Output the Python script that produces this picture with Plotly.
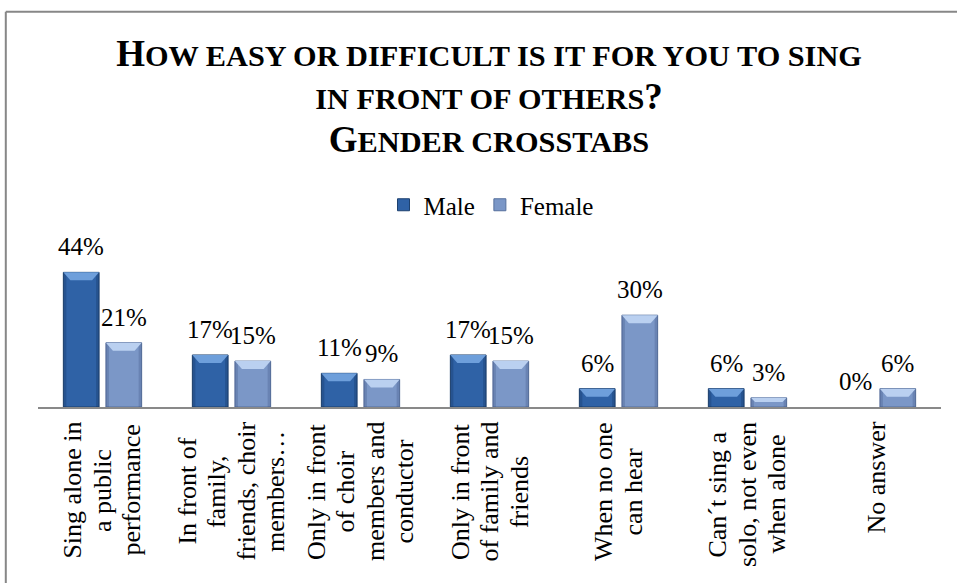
import plotly.graph_objects as go

# ---- data -------------------------------------------------------------
categories = [
    "Sing alone in a public performance",
    "In front of family, friends, choir members…",
    "Only in front of choir members and conductor",
    "Only in front of family and friends",
    "When no one can hear",
    "Can´t sing a solo, not even when alone",
    "No answer",
]
category_lines = [
    ["Sing alone in", "a public", "performance"],
    ["In front of", "family,", "friends, choir", "members…"],
    ["Only in front", "of choir", "members and", "conductor"],
    ["Only in front", "of family and", "friends"],
    ["When no one", "can hear"],
    ["Can´t sing a", "solo, not even", "when alone"],
    ["No answer"],
]
male = [44, 17, 11, 17, 6, 6, 0]
female = [21, 15, 9, 15, 30, 3, 6]

# ---- geometry / style -------------------------------------------------
W, H = 957, 583
M_L, M_R, M_T, M_B = 38, 16, 254, 176
PLOT_W = W - M_L - M_R
PLOT_H = H - M_T - M_B
Y_MAX = 50
X_RANGE = [-0.5, len(categories) - 0.5]
PX_X = PLOT_W / (X_RANGE[1] - X_RANGE[0])   # px per category unit
PX_Y = PLOT_H / Y_MAX                         # px per percent

BAR_W = 0.277
CENTER_OFF = 0.165
FONT = "Liberation Serif"
LABEL_SIZE = 26
LABEL_LINE_GAP = 29.5      # px between rotated label lines
LABEL_TOP = 422            # px where the longest label line starts

# Times-style advance widths (per 1000 em) for the label characters
TIMES_W = {
    " ": 250, "a": 444, "b": 500, "c": 444, "d": 500, "e": 444, "f": 333,
    "g": 500, "h": 500, "i": 278, "l": 278, "m": 778, "n": 500, "o": 500,
    "p": 500, "r": 333, "s": 389, "t": 278, "u": 500, "v": 500, "w": 722,
    "y": 500, "C": 667, "I": 333, "N": 722, "O": 722, "S": 556, "W": 944,
    ",": 250, "´": 333, "…": 1000,
}


def text_len(s, size):
    return sum(TIMES_W.get(ch, 500) for ch in s) * size / 1000.0


series = [
    dict(name="Male", values=male, off=-CENTER_OFF,
         fill="#2f62a6", edge="#1d416f", top="#6e9fdb", side="rgba(10,30,70,0.22)"),
    dict(name="Female", values=female, off=CENTER_OFF,
         fill="#7b97c7", edge="#566f9c", top="#bad0f0", side="rgba(30,45,90,0.18)"),
]

xs = list(range(len(categories)))
fig = go.Figure()

shapes = []
annotations = []


def px_to_paper_x(px):
    return (px - M_L) / PLOT_W


def px_to_paper_y(py):
    return (H - M_B - py) / PLOT_H


for s in series:
    fig.add_trace(go.Bar(
        x=xs, y=s["values"], name=s["name"],
        width=BAR_W, offset=s["off"] - BAR_W / 2,
        marker=dict(color=s["fill"],
                    line=dict(color=s["edge"],
                              width=[1 if v > 0 else 0 for v in s["values"]])),
        hoverinfo="skip",
    ))
    for i, v in enumerate(s["values"]):
        xc = i + s["off"]
        x0, x1 = xc - BAR_W / 2, xc + BAR_W / 2
        # bevel highlights on each bar
        if v > 0:
            bar_px = v * PX_Y
            h = min(8.0, bar_px * 0.45) / PX_Y
            inset = min(7.0, bar_px * 0.45) / PX_X
            side = 3.0 / PX_X
            shapes.append(dict(
                type="rect", xref="x", yref="y",
                x0=x0, x1=x0 + side, y0=0, y1=v,
                fillcolor=s["side"], line=dict(width=0), layer="above"))
            shapes.append(dict(
                type="rect", xref="x", yref="y",
                x0=x1 - side, x1=x1, y0=0, y1=v,
                fillcolor=s["side"], line=dict(width=0), layer="above"))
            shapes.append(dict(
                type="path", xref="x", yref="y",
                path=(f"M{x0},{v} L{x1},{v} L{x1 - inset},{v - h} "
                      f"L{x0 + inset},{v - h} Z"),
                fillcolor=s["top"], line=dict(width=0), layer="above"))
        # value label above the bar
        annotations.append(dict(
            x=xc, y=v, xref="x", yref="y", text=f"{v}%",
            showarrow=False, yanchor="bottom", yshift=10,
            font=dict(family=FONT, size=25, color="#000000")))

# rotated category labels under the axis, lines centred on each other
for i, lines in enumerate(category_lines):
    longest = max(text_len(ln, LABEL_SIZE) for ln in lines)
    centre_px = LABEL_TOP + longest / 2
    n = len(lines)
    for k, ln in enumerate(lines):
        annotations.append(dict(
            x=i + (k - (n - 1) / 2) * LABEL_LINE_GAP / PX_X,
            y=px_to_paper_y(centre_px), xref="x", yref="paper", text=ln,
            showarrow=False, textangle=-90,
            xanchor="center", yanchor="middle",
            font=dict(family=FONT, size=LABEL_SIZE, color="#000000")))

# outer chart frame (left and top edges)
frame_x, frame_y = 5.8, 11.8
shapes.append(dict(type="line", xref="paper", yref="paper",
                   x0=px_to_paper_x(frame_x), x1=px_to_paper_x(frame_x),
                   y0=px_to_paper_y(H + 5), y1=px_to_paper_y(frame_y),
                   line=dict(color="#878787", width=2)))
shapes.append(dict(type="line", xref="paper", yref="paper",
                   x0=px_to_paper_x(frame_x), x1=px_to_paper_x(W + 5),
                   y0=px_to_paper_y(frame_y), y1=px_to_paper_y(frame_y),
                   line=dict(color="#878787", width=2)))

BIG, SMALL = 37, 30.3
title_text = (
    f"<span style='font-size:{BIG}px'>H</span>"
    f"<span style='font-size:{SMALL}px'>OW EASY OR DIFFICULT IS IT FOR YOU TO SING</span><br>"
    f"<span style='font-size:{SMALL}px'>IN FRONT OF OTHERS</span>"
    f"<span style='font-size:{BIG}px'>?</span><br>"
    f"<span style='font-size:{BIG}px'>G</span>"
    f"<span style='font-size:{SMALL}px'>ENDER CROSSTABS</span>"
)

fig.update_layout(
    width=W, height=H,
    margin=dict(l=M_L, r=M_R, t=M_T, b=M_B, pad=0),
    paper_bgcolor="#ffffff", plot_bgcolor="#ffffff",
    barmode="overlay",
    title=dict(text=title_text, x=489 / W, xanchor="center", xref="container",
               y=1 - 66 / H, yanchor="top", yref="container",
               font=dict(family=FONT, size=33, color="#000000", weight="bold")),
    legend=dict(orientation="h", x=px_to_paper_x(491), xanchor="center",
                y=px_to_paper_y(205), yanchor="middle",
                font=dict(family=FONT, size=25, color="#000000"),
                bgcolor="rgba(0,0,0,0)"),
    xaxis=dict(range=X_RANGE, showticklabels=False, ticks="", showgrid=False,
               zeroline=False, showline=True, linecolor="#898989", linewidth=2,
               fixedrange=True),
    yaxis=dict(range=[0, Y_MAX], visible=False, showgrid=False, zeroline=False,
               fixedrange=True),
    shapes=shapes,
    annotations=annotations,
    showlegend=True,
)

fig.write_html("out.html")
